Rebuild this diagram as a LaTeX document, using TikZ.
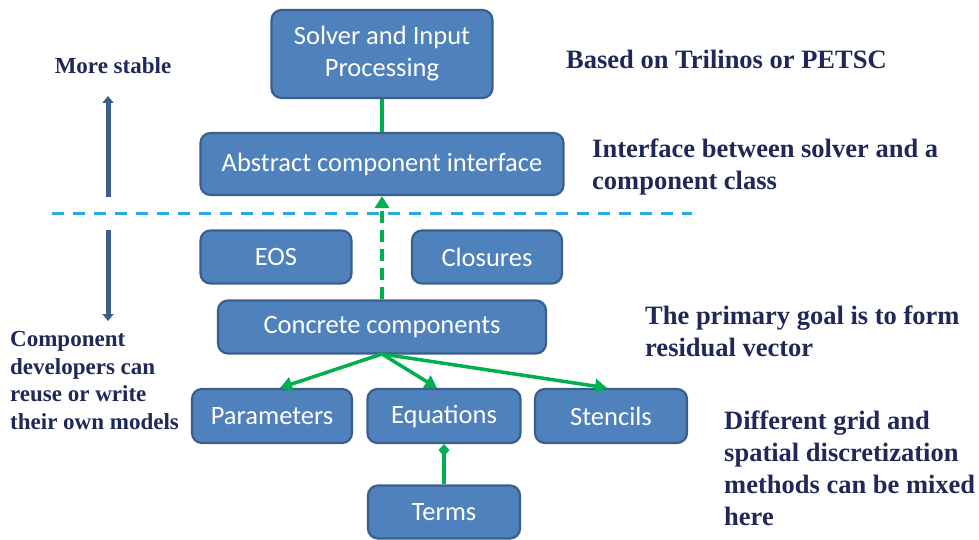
\documentclass[tikz,border=0pt]{standalone}
\usepackage{fontspec}
\setmainfont{Liberation Serif}
\newfontfamily\boxfont{Carlito}
\usetikzlibrary{arrows.meta}
\definecolor{boxfill}{HTML}{4F81BD}
\definecolor{boxline}{HTML}{3A5F8C}
\definecolor{conn}{HTML}{00B050}
\definecolor{navy}{HTML}{1F2858}
\definecolor{sepblue}{HTML}{29ABE2}
\definecolor{stab}{HTML}{3A5F8C}
\begin{document}
\begin{tikzpicture}[x=1pt,y=-1pt,
  comp/.style={draw=boxline,line width=2.2pt,fill=boxfill,rounded corners=10pt,
    text=white,font=\boxfont\fontsize{26.5}{32}\selectfont,align=center,inner sep=0pt},
  note/.style={text=navy,font=\bfseries\fontsize{26.5}{32}\selectfont,align=left,anchor=north west,inner sep=0pt},
  link/.style={draw=conn,line width=3.5pt},
  linkarrow/.style={link,-{Triangle[length=12pt,width=14pt]}},
  stabarrow/.style={draw=stab,line width=5pt,-{Triangle[length=7pt,width=11pt]}}]
\useasboundingbox (0,0) rectangle (979,540);
% boxes
\node[comp,minimum width=221pt,minimum height=88pt] (solver) at (382,54) {\rule{0pt}{6pt}Solver and Input\\Processing};
\node[comp,minimum width=363pt,minimum height=62pt] (abstract) at (382,164) {Abstract component interface};
\node[comp,minimum width=151pt,minimum height=53pt] (eos) at (276,257) {EOS};
\node[comp,minimum width=150pt,minimum height=53pt] (closures) at (487,257) {Closures};
\node[comp,minimum width=328pt,minimum height=53pt] (concrete) at (382,327) {Concrete components};
\node[comp,minimum width=160pt,minimum height=54pt] (params) at (272,416) {Parameters};
\node[comp,minimum width=153pt,minimum height=54pt] (equations) at (444,416) {Equations};
\node[comp,minimum width=152pt,minimum height=54pt] (stencils) at (611,416) {Stencils};
\node[comp,minimum width=152pt,minimum height=53pt] (terms) at (444,512) {Terms};
% dashed separator
\coordinate (dl) at (52,213);
\coordinate (dr) at (692,213);
\draw[sepblue,line width=3pt,dash pattern=on 12pt off 9pt] (dl) -- (dr);
% connectors
\draw[link] (solver.south) -- (abstract.north);
\draw[linkarrow,dash pattern=on 12pt off 7pt] (concrete.north) -- (abstract.south);
\coordinate (cb) at (382,354);
\draw[linkarrow] (cb) -- ([xshift=8pt]params.north);
\draw[linkarrow] (cb) -- ([xshift=-7pt]equations.north);
\draw[linkarrow] (cb) -- ([xshift=-4pt]stencils.north);
\draw[link,-{Diamond[length=12pt,width=11pt]}] (terms.north) -- (equations.south);
% stability arrows
\coordinate (ua) at (108,197);
\coordinate (ub) at (108,96);
\coordinate (da) at (108,230);
\coordinate (db) at (108,321);
\draw[stabarrow] (ua) -- (ub);
\draw[stabarrow] (da) -- (db);
% notes
\node[text=navy,font=\bfseries\fontsize{23}{28}\selectfont,inner sep=0pt,anchor=base] (stable) at (113,74) {More stable};
\node[note,font=\bfseries\fontsize{23}{27.7}\selectfont] (devs) at (10,331) {Component\\developers can\\reuse or write\\their own models};
\node[note] (based) at (566,50) {Based on Trilinos or PETSC};
\node[note] (iface) at (592,139) {Interface between solver and a\\component class};
\node[note] (goal) at (645,306) {The primary goal is to form\\residual vector};
\node[note] (grid) at (724,411) {Different grid and\\spatial discretization\\methods can be mixed\\here};
\end{tikzpicture}
\end{document}
